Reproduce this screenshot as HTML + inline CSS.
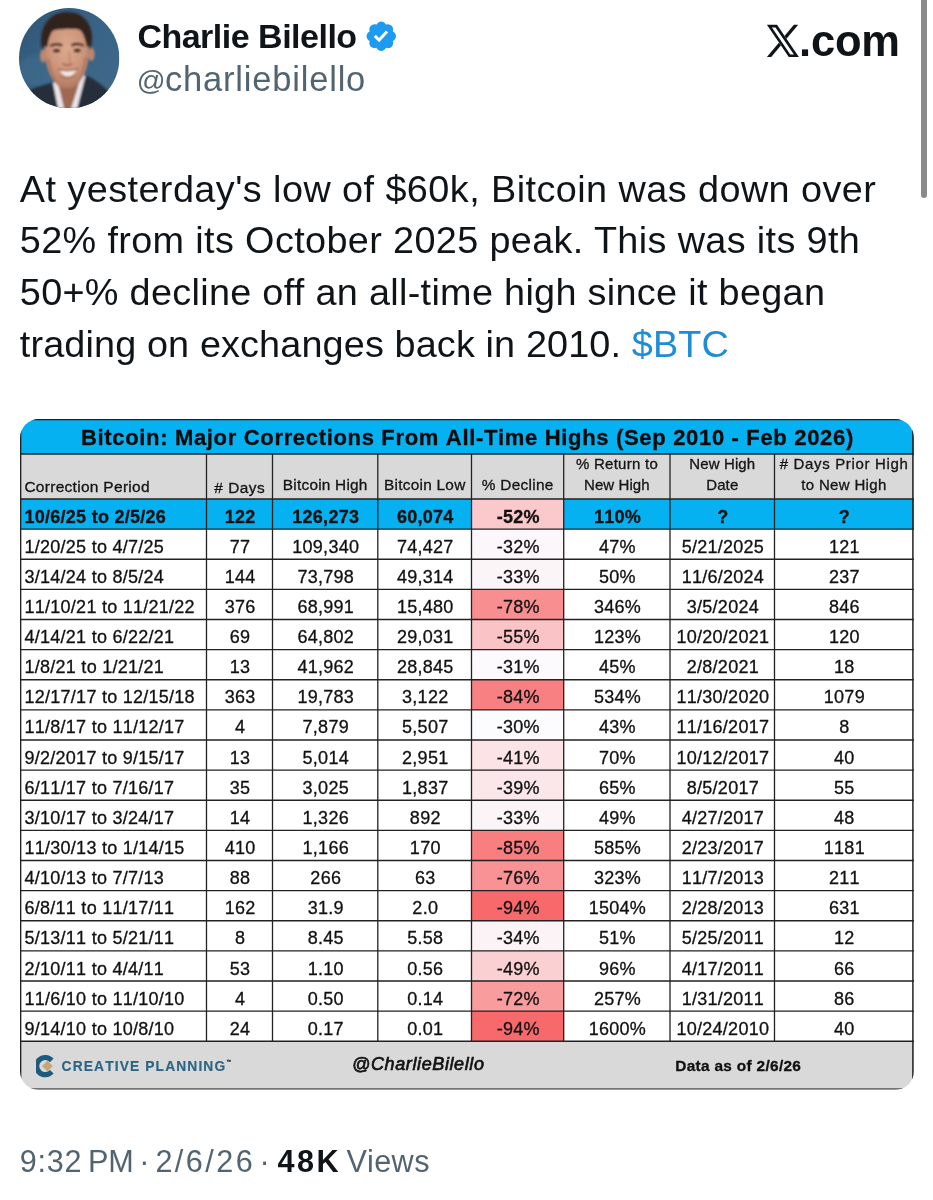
<!DOCTYPE html>
<html lang="en">
<head>
<meta charset="utf-8">
<title>Charlie Bilello on X</title>
<style>
html,body{margin:0;padding:0;background:#fff;}
body{width:933px;height:1200px;position:relative;overflow:hidden;font-family:"Liberation Sans",sans-serif;color:#0f1419;}
#tweet div{position:absolute;white-space:pre;}
#tweet svg{position:absolute;}
.card{left:20px;top:419px;width:894px;height:671px;border-radius:19px;overflow:hidden;background:#fff;}
.card div{font-kerning:none;color:#111;-webkit-text-stroke:0.3px #111;}
.bg{left:0;}
</style>
</head>
<body>
<article id="tweet">
<svg width="100.4" height="100.4" viewBox="0 0 100 100" style="left:19.2px;top:7.6px">
<defs>
<clipPath id="avc"><circle cx="50" cy="50" r="50"/></clipPath>
<filter id="b1" x="-20%" y="-20%" width="140%" height="140%"><feGaussianBlur stdDeviation="1.1"/></filter>
<filter id="b2" x="-20%" y="-20%" width="140%" height="140%"><feGaussianBlur stdDeviation="0.9"/></filter>
<filter id="b3" x="-30%" y="-30%" width="160%" height="160%"><feGaussianBlur stdDeviation="2.5"/></filter>
<linearGradient id="avbg" x1="0" y1="0" x2="1" y2="0.8"><stop offset="0" stop-color="#2f5676"/><stop offset="0.6" stop-color="#3a6487"/><stop offset="1" stop-color="#3f6889"/></linearGradient>
<radialGradient id="skin" cx="0.5" cy="0.35" r="0.7"><stop offset="0" stop-color="#dca98f"/><stop offset="0.55" stop-color="#cd967c"/><stop offset="1" stop-color="#ad745d"/></radialGradient>
</defs>
<g clip-path="url(#avc)">
<rect width="100" height="100" fill="url(#avbg)"/>
<ellipse cx="20" cy="62" rx="22" ry="16" fill="#42708f" opacity="0.55" filter="url(#b3)"/>
<g filter="url(#b1)" transform="translate(-1.1,-0.9)">
<!-- suit -->
<path d="M6 86 C12 81 24 78 35 75 L44 104 L58 104 L68 68 C76 72 84 77 92 86 L96 106 L2 106 Z" fill="#262e3b"/>
<!-- shirt collar -->
<path d="M35 76 L37.5 73 L43 82 L47 101 L40 101 Z" fill="#e9e4e6"/>
<path d="M67 69 L64 66 L58 80 L52 101 L59 101 Z" fill="#e9e4e6"/>
<!-- neck -->
<path d="M38 70 L64 64 L59 82 L53 101 L46 101 L42 84 Z" fill="#9f6852"/>
<!-- ears -->
<ellipse cx="25.2" cy="48.5" rx="3.2" ry="6.8" fill="#bd866e"/>
<ellipse cx="73.2" cy="47" rx="3.2" ry="6.8" fill="#bd866e"/>
<!-- hair -->
<path d="M24.5 44 C19 22 30 5.5 48 4.8 C67 4 78 20 72.5 43 C72 33 69 26 62 22 C54 19 44 19 36 22 C29 26 26 33 24.5 44 Z" fill="#33241f"/>
<!-- face -->
<path d="M27 42 C26 29 33 20.5 48 20 C63 19.5 71 28 70.5 41 C71 57 67 68 60 76 C55 82 44 83 39 77 C31 69 27 57 27 42 Z" fill="url(#skin)"/>
<!-- temples hair over face edges -->
<path d="M26 40 C26 30 30 24 36 21 C32 27 30 33 29.5 39 Z" fill="#33241f"/>
<path d="M71.5 40 C71.5 30 68 24 61 21 C65.5 26 67.5 33 68.5 39 Z" fill="#33241f"/>
<!-- hairline fringe -->
<path d="M34 24 C40 17 58 16 65 24 C58 20.5 54 22.5 49 21.5 C44 22.5 40 21 34 24 Z" fill="#33241f"/>
</g>
<g filter="url(#b2)" transform="translate(-1.1,-0.9)">
<!-- cheek / jaw shading -->
<path d="M29 52 C30 64 35 73 41 78 C36 70 33 62 32 52 Z" fill="#a66e58" opacity="0.6"/>
<path d="M69 50 C68 63 63 72 58 78 C62 70 65 62 66 50 Z" fill="#a66e58" opacity="0.6"/>
<!-- brows / eyes -->
<path d="M32.5 38.6 Q38 35.6 44 38.2" stroke="#3f2a22" stroke-width="2.1" fill="none"/>
<path d="M53.5 38 Q59.5 35.4 65.5 38.4" stroke="#3f2a22" stroke-width="2.1" fill="none"/>
<ellipse cx="38.5" cy="43.4" rx="3.4" ry="1.7" fill="#4d3128"/>
<ellipse cx="59.2" cy="43.2" rx="3.4" ry="1.7" fill="#4d3128"/>
<!-- nose -->
<path d="M44.5 56.5 Q49 59.5 54 56.5" stroke="#a2674f" stroke-width="1.7" fill="none"/>
<path d="M50.5 44 Q52 51 51.5 55" stroke="#b98068" stroke-width="1.2" fill="none"/>
<!-- smile -->
<path d="M41.5 62.6 Q50 65.2 58.5 62.2 Q55.5 68.8 50 69 Q44.5 69 41.5 62.6 Z" fill="#f1e9e6"/>
<path d="M40 62 Q50 64.8 60 61.6" stroke="#93584a" stroke-width="1.3" fill="none"/>
<path d="M42 68.5 Q49.5 73 57 68" stroke="#a56a58" stroke-width="1.4" fill="none"/>
</g>
</g>
</svg>
<div style="top:14px;font-size:34px;line-height:44px;font-weight:700;letter-spacing:-0.5px;left:137.40px;">Charlie Bilello</div><div style="top:57px;font-size:34.5px;line-height:44px;color:#536471;letter-spacing:0.8px;left:136.80px;"><span style="font-size:28.4px;position:relative;top:-1.4px;letter-spacing:-0.6px">@</span>charliebilello</div><svg width="34.5" height="34.5" viewBox="0 0 22 22" style="left:364.15px;top:19.25px"><path fill="#1d9bf0" d="M20.396 11c-.018-.646-.215-1.275-.57-1.816-.354-.54-.852-.972-1.438-1.246.223-.607.27-1.264.14-1.897-.131-.634-.437-1.218-.882-1.687-.47-.445-1.053-.75-1.687-.882-.633-.13-1.29-.083-1.897.14-.273-.587-.704-1.086-1.245-1.44S11.647 1.62 11 1.604c-.646.017-1.273.213-1.813.568s-.969.854-1.24 1.44c-.608-.223-1.267-.272-1.902-.14-.635.13-1.22.436-1.69.882-.445.47-.749 1.055-.878 1.688-.13.633-.08 1.29.144 1.896-.587.274-1.087.705-1.443 1.245-.356.54-.555 1.17-.574 1.817.02.647.218 1.276.574 1.817.356.54.856.972 1.443 1.245-.224.606-.274 1.263-.144 1.896.13.634.433 1.218.877 1.688.47.443 1.054.747 1.687.878.633.132 1.29.084 1.897-.136.274.586.705 1.084 1.246 1.439.54.354 1.17.551 1.816.569.647-.016 1.276-.213 1.817-.567s.972-.854 1.245-1.44c.604.239 1.266.296 1.903.164.636-.132 1.22-.447 1.68-.907.46-.46.776-1.044.908-1.681s.075-1.299-.165-1.903c.586-.274 1.084-.705 1.439-1.246.354-.54.551-1.17.569-1.816zM9.662 14.85l-3.429-3.428 1.293-1.302 2.072 2.072 4.4-4.794 1.347 1.246z"/></svg>
<svg width="40" height="40" viewBox="760 20 40 40" style="left:760px;top:20px">
<path d="M793.9 24.8 L798.2 24.8 L771.2 57.1 L766.9 57.1 Z" fill="#0f1419"/>
<path d="M766.9 24.8 L777.0 24.8 L798.9 57.1 L788.8 57.1 Z" fill="#fff"/>
<path fill-rule="evenodd" d="M766.9 24.8 L777.0 24.8 L798.9 57.1 L788.8 57.1 Z M771.9 27.4 L790.3 54.5 L793.9 54.5 L775.5 27.4 Z" fill="#0f1419"/>
</svg>
<div style="top:13px;font-size:43.5px;line-height:56px;font-weight:700;letter-spacing:-0.2px;left:799.00px;">.com</div><div style="left:921px;top:-6px;width:6px;height:204px;border-radius:3px;background:#8a8a8a"></div>
<div style="top:164px;font-size:37.8px;line-height:50px;letter-spacing:0.44px;left:19.80px;">At yesterday's low of $60k, Bitcoin was down over</div>
<div style="top:215px;font-size:37.8px;line-height:50px;letter-spacing:0.367px;left:19.80px;">52% from its October 2025 peak. This was its 9th</div>
<div style="top:267px;font-size:37.8px;line-height:50px;letter-spacing:0.313px;left:19.80px;">50+% decline off an all-time high since it began</div>
<div style="top:319px;font-size:37.8px;line-height:50px;letter-spacing:0.134px;left:19.80px;">trading on exchanges back in 2010. <span style="color:#1e8dd6">$BTC</span></div>
<div class="card">
<div class="bg" style="left:0.00px;top:0.00px;width:894.00px;height:35.00px;background:#05b1f0"></div><div class="bg" style="left:0.00px;top:35.00px;width:894.00px;height:44.75px;background:#d9d9d9"></div><div class="bg" style="left:0.00px;top:80.00px;width:894.00px;height:30.12px;background:#05b1f0"></div><div class="bg" style="left:0.00px;top:622.25px;width:894.00px;height:49.75px;background:#d9d9d9"></div>
<div class="bg" style="left:451.50px;top:80.00px;width:92.20px;height:30.12px;background:#fbc9cc"></div><div class="bg" style="left:451.50px;top:110.12px;width:92.20px;height:30.12px;background:#fcf7fa"></div><div class="bg" style="left:451.50px;top:140.25px;width:92.20px;height:30.12px;background:#fcf5f8"></div><div class="bg" style="left:451.50px;top:170.38px;width:92.20px;height:30.12px;background:#f98e90"></div><div class="bg" style="left:451.50px;top:200.50px;width:92.20px;height:30.12px;background:#fac3c5"></div><div class="bg" style="left:451.50px;top:230.62px;width:92.20px;height:30.12px;background:#fcfafd"></div><div class="bg" style="left:451.50px;top:260.75px;width:92.20px;height:30.12px;background:#f98082"></div><div class="bg" style="left:451.50px;top:290.88px;width:92.20px;height:30.12px;background:#fcfcff"></div><div class="bg" style="left:451.50px;top:321.00px;width:92.20px;height:30.12px;background:#fbe3e6"></div><div class="bg" style="left:451.50px;top:351.12px;width:92.20px;height:30.12px;background:#fbe7ea"></div><div class="bg" style="left:451.50px;top:381.25px;width:92.20px;height:30.12px;background:#fcf5f8"></div><div class="bg" style="left:451.50px;top:411.38px;width:92.20px;height:30.12px;background:#f97e80"></div><div class="bg" style="left:451.50px;top:441.50px;width:92.20px;height:30.12px;background:#f99295"></div><div class="bg" style="left:451.50px;top:471.62px;width:92.20px;height:30.12px;background:#f8696b"></div><div class="bg" style="left:451.50px;top:501.75px;width:92.20px;height:30.12px;background:#fcf3f6"></div><div class="bg" style="left:451.50px;top:531.88px;width:92.20px;height:30.12px;background:#fbd0d3"></div><div class="bg" style="left:451.50px;top:562.00px;width:92.20px;height:30.12px;background:#f99c9e"></div><div class="bg" style="left:451.50px;top:592.12px;width:92.20px;height:30.12px;background:#f8696b"></div>
<div style="top:4px;font-size:22px;line-height:29px;font-weight:700;color:#0a0a0a;letter-spacing:0.671px;left:60.90px;">Bitcoin: Major Corrections From All-Time Highs (Sep 2010 - Feb 2026)</div>
<div style="top:57px;font-size:15.5px;line-height:21px;color:#161616;letter-spacing:0.287px;left:4.40px;">Correction Period</div><div style="top:58px;font-size:15.4px;line-height:21px;color:#161616;letter-spacing:0.494px;left:139.75px;width:160px;text-align:center;"># Days</div><div style="top:55px;font-size:15.4px;line-height:21px;color:#161616;letter-spacing:0.221px;left:225.26px;width:160px;text-align:center;">Bitcoin High</div><div style="top:55px;font-size:15.4px;line-height:21px;color:#161616;letter-spacing:0.265px;left:324.78px;width:160px;text-align:center;">Bitcoin Low</div><div style="top:55px;font-size:15.4px;line-height:21px;color:#161616;letter-spacing:0.296px;left:417.75px;width:160px;text-align:center;">% Decline</div><div style="top:34px;font-size:15.0px;line-height:21px;color:#161616;letter-spacing:0.27px;left:516.99px;width:160px;text-align:center;">% Return to</div><div style="top:55px;font-size:15.0px;line-height:21px;color:#161616;letter-spacing:0.082px;left:516.89px;width:160px;text-align:center;">New High</div><div style="top:34px;font-size:15.0px;line-height:21px;color:#161616;letter-spacing:0.111px;left:622.31px;width:160px;text-align:center;">New High</div><div style="top:55px;font-size:15.0px;line-height:21px;color:#161616;letter-spacing:0.105px;left:622.30px;width:160px;text-align:center;">Date</div><div style="top:34px;font-size:15.0px;line-height:21px;color:#161616;letter-spacing:0.666px;left:744.08px;width:160px;text-align:center;"># Days Prior High</div><div style="top:55px;font-size:15.0px;line-height:21px;color:#161616;letter-spacing:0.33px;left:743.91px;width:160px;text-align:center;">to New High</div>
<div style="top:86px;font-size:18.0px;line-height:24px;font-weight:700;color:#111;letter-spacing:0.26px;left:4.50px;">10/6/25 to 2/5/26</div><div style="top:86px;font-size:18.0px;line-height:24px;font-weight:700;color:#111;letter-spacing:0.26px;left:155.13px;width:130px;text-align:center;">122</div><div style="top:86px;font-size:18.0px;line-height:24px;font-weight:700;color:#111;letter-spacing:0.26px;left:240.78px;width:130px;text-align:center;">126,273</div><div style="top:86px;font-size:18.0px;line-height:24px;font-weight:700;color:#111;letter-spacing:0.26px;left:340.28px;width:130px;text-align:center;">60,074</div><div style="top:86px;font-size:18.0px;line-height:24px;font-weight:700;color:#111;letter-spacing:0.26px;left:433.23px;width:130px;text-align:center;">-52%</div><div style="top:86px;font-size:18.0px;line-height:24px;font-weight:700;color:#111;letter-spacing:0.26px;left:532.48px;width:130px;text-align:center;">110%</div><div style="top:86px;font-size:18.0px;line-height:24px;font-weight:700;color:#111;letter-spacing:0.26px;left:637.88px;width:130px;text-align:center;">?</div><div style="top:86px;font-size:18.0px;line-height:24px;font-weight:700;color:#111;letter-spacing:0.26px;left:759.38px;width:130px;text-align:center;">?</div>
<div style="top:116px;font-size:18.0px;line-height:24px;color:#111;letter-spacing:0.26px;left:4.50px;">1/20/25 to 4/7/25</div><div style="top:116px;font-size:18.0px;line-height:24px;color:#111;letter-spacing:0.26px;left:155.13px;width:130px;text-align:center;">77</div><div style="top:116px;font-size:18.0px;line-height:24px;color:#111;letter-spacing:0.26px;left:240.78px;width:130px;text-align:center;">109,340</div><div style="top:116px;font-size:18.0px;line-height:24px;color:#111;letter-spacing:0.26px;left:340.28px;width:130px;text-align:center;">74,427</div><div style="top:116px;font-size:18.0px;line-height:24px;color:#111;letter-spacing:0.26px;left:433.23px;width:130px;text-align:center;">-32%</div><div style="top:116px;font-size:18.0px;line-height:24px;color:#111;letter-spacing:0.26px;left:532.48px;width:130px;text-align:center;">47%</div><div style="top:116px;font-size:18.0px;line-height:24px;color:#111;letter-spacing:0.26px;left:637.88px;width:130px;text-align:center;">5/21/2025</div><div style="top:116px;font-size:18.0px;line-height:24px;color:#111;letter-spacing:0.26px;left:759.38px;width:130px;text-align:center;">121</div>
<div style="top:146px;font-size:18.0px;line-height:24px;color:#111;letter-spacing:0.26px;left:4.50px;">3/14/24 to 8/5/24</div><div style="top:146px;font-size:18.0px;line-height:24px;color:#111;letter-spacing:0.26px;left:155.13px;width:130px;text-align:center;">144</div><div style="top:146px;font-size:18.0px;line-height:24px;color:#111;letter-spacing:0.26px;left:240.78px;width:130px;text-align:center;">73,798</div><div style="top:146px;font-size:18.0px;line-height:24px;color:#111;letter-spacing:0.26px;left:340.28px;width:130px;text-align:center;">49,314</div><div style="top:146px;font-size:18.0px;line-height:24px;color:#111;letter-spacing:0.26px;left:433.23px;width:130px;text-align:center;">-33%</div><div style="top:146px;font-size:18.0px;line-height:24px;color:#111;letter-spacing:0.26px;left:532.48px;width:130px;text-align:center;">50%</div><div style="top:146px;font-size:18.0px;line-height:24px;color:#111;letter-spacing:0.26px;left:637.88px;width:130px;text-align:center;">11/6/2024</div><div style="top:146px;font-size:18.0px;line-height:24px;color:#111;letter-spacing:0.26px;left:759.38px;width:130px;text-align:center;">237</div>
<div style="top:176px;font-size:18.0px;line-height:24px;color:#111;letter-spacing:0.26px;left:4.50px;">11/10/21 to 11/21/22</div><div style="top:176px;font-size:18.0px;line-height:24px;color:#111;letter-spacing:0.26px;left:155.13px;width:130px;text-align:center;">376</div><div style="top:176px;font-size:18.0px;line-height:24px;color:#111;letter-spacing:0.26px;left:240.78px;width:130px;text-align:center;">68,991</div><div style="top:176px;font-size:18.0px;line-height:24px;color:#111;letter-spacing:0.26px;left:340.28px;width:130px;text-align:center;">15,480</div><div style="top:176px;font-size:18.0px;line-height:24px;color:#111;letter-spacing:0.26px;left:433.23px;width:130px;text-align:center;">-78%</div><div style="top:176px;font-size:18.0px;line-height:24px;color:#111;letter-spacing:0.26px;left:532.48px;width:130px;text-align:center;">346%</div><div style="top:176px;font-size:18.0px;line-height:24px;color:#111;letter-spacing:0.26px;left:637.88px;width:130px;text-align:center;">3/5/2024</div><div style="top:176px;font-size:18.0px;line-height:24px;color:#111;letter-spacing:0.26px;left:759.38px;width:130px;text-align:center;">846</div>
<div style="top:206px;font-size:18.0px;line-height:24px;color:#111;letter-spacing:0.26px;left:4.50px;">4/14/21 to 6/22/21</div><div style="top:206px;font-size:18.0px;line-height:24px;color:#111;letter-spacing:0.26px;left:155.13px;width:130px;text-align:center;">69</div><div style="top:206px;font-size:18.0px;line-height:24px;color:#111;letter-spacing:0.26px;left:240.78px;width:130px;text-align:center;">64,802</div><div style="top:206px;font-size:18.0px;line-height:24px;color:#111;letter-spacing:0.26px;left:340.28px;width:130px;text-align:center;">29,031</div><div style="top:206px;font-size:18.0px;line-height:24px;color:#111;letter-spacing:0.26px;left:433.23px;width:130px;text-align:center;">-55%</div><div style="top:206px;font-size:18.0px;line-height:24px;color:#111;letter-spacing:0.26px;left:532.48px;width:130px;text-align:center;">123%</div><div style="top:206px;font-size:18.0px;line-height:24px;color:#111;letter-spacing:0.26px;left:637.88px;width:130px;text-align:center;">10/20/2021</div><div style="top:206px;font-size:18.0px;line-height:24px;color:#111;letter-spacing:0.26px;left:759.38px;width:130px;text-align:center;">120</div>
<div style="top:236px;font-size:18.0px;line-height:24px;color:#111;letter-spacing:0.26px;left:4.50px;">1/8/21 to 1/21/21</div><div style="top:236px;font-size:18.0px;line-height:24px;color:#111;letter-spacing:0.26px;left:155.13px;width:130px;text-align:center;">13</div><div style="top:236px;font-size:18.0px;line-height:24px;color:#111;letter-spacing:0.26px;left:240.78px;width:130px;text-align:center;">41,962</div><div style="top:236px;font-size:18.0px;line-height:24px;color:#111;letter-spacing:0.26px;left:340.28px;width:130px;text-align:center;">28,845</div><div style="top:236px;font-size:18.0px;line-height:24px;color:#111;letter-spacing:0.26px;left:433.23px;width:130px;text-align:center;">-31%</div><div style="top:236px;font-size:18.0px;line-height:24px;color:#111;letter-spacing:0.26px;left:532.48px;width:130px;text-align:center;">45%</div><div style="top:236px;font-size:18.0px;line-height:24px;color:#111;letter-spacing:0.26px;left:637.88px;width:130px;text-align:center;">2/8/2021</div><div style="top:236px;font-size:18.0px;line-height:24px;color:#111;letter-spacing:0.26px;left:759.38px;width:130px;text-align:center;">18</div>
<div style="top:266px;font-size:18.0px;line-height:24px;color:#111;letter-spacing:0.26px;left:4.50px;">12/17/17 to 12/15/18</div><div style="top:266px;font-size:18.0px;line-height:24px;color:#111;letter-spacing:0.26px;left:155.13px;width:130px;text-align:center;">363</div><div style="top:266px;font-size:18.0px;line-height:24px;color:#111;letter-spacing:0.26px;left:240.78px;width:130px;text-align:center;">19,783</div><div style="top:266px;font-size:18.0px;line-height:24px;color:#111;letter-spacing:0.26px;left:340.28px;width:130px;text-align:center;">3,122</div><div style="top:266px;font-size:18.0px;line-height:24px;color:#111;letter-spacing:0.26px;left:433.23px;width:130px;text-align:center;">-84%</div><div style="top:266px;font-size:18.0px;line-height:24px;color:#111;letter-spacing:0.26px;left:532.48px;width:130px;text-align:center;">534%</div><div style="top:266px;font-size:18.0px;line-height:24px;color:#111;letter-spacing:0.26px;left:637.88px;width:130px;text-align:center;">11/30/2020</div><div style="top:266px;font-size:18.0px;line-height:24px;color:#111;letter-spacing:0.26px;left:759.38px;width:130px;text-align:center;">1079</div>
<div style="top:296px;font-size:18.0px;line-height:24px;color:#111;letter-spacing:0.26px;left:4.50px;">11/8/17 to 11/12/17</div><div style="top:296px;font-size:18.0px;line-height:24px;color:#111;letter-spacing:0.26px;left:155.13px;width:130px;text-align:center;">4</div><div style="top:296px;font-size:18.0px;line-height:24px;color:#111;letter-spacing:0.26px;left:240.78px;width:130px;text-align:center;">7,879</div><div style="top:296px;font-size:18.0px;line-height:24px;color:#111;letter-spacing:0.26px;left:340.28px;width:130px;text-align:center;">5,507</div><div style="top:296px;font-size:18.0px;line-height:24px;color:#111;letter-spacing:0.26px;left:433.23px;width:130px;text-align:center;">-30%</div><div style="top:296px;font-size:18.0px;line-height:24px;color:#111;letter-spacing:0.26px;left:532.48px;width:130px;text-align:center;">43%</div><div style="top:296px;font-size:18.0px;line-height:24px;color:#111;letter-spacing:0.26px;left:637.88px;width:130px;text-align:center;">11/16/2017</div><div style="top:296px;font-size:18.0px;line-height:24px;color:#111;letter-spacing:0.26px;left:759.38px;width:130px;text-align:center;">8</div>
<div style="top:327px;font-size:18.0px;line-height:24px;color:#111;letter-spacing:0.26px;left:4.50px;">9/2/2017 to 9/15/17</div><div style="top:327px;font-size:18.0px;line-height:24px;color:#111;letter-spacing:0.26px;left:155.13px;width:130px;text-align:center;">13</div><div style="top:327px;font-size:18.0px;line-height:24px;color:#111;letter-spacing:0.26px;left:240.78px;width:130px;text-align:center;">5,014</div><div style="top:327px;font-size:18.0px;line-height:24px;color:#111;letter-spacing:0.26px;left:340.28px;width:130px;text-align:center;">2,951</div><div style="top:327px;font-size:18.0px;line-height:24px;color:#111;letter-spacing:0.26px;left:433.23px;width:130px;text-align:center;">-41%</div><div style="top:327px;font-size:18.0px;line-height:24px;color:#111;letter-spacing:0.26px;left:532.48px;width:130px;text-align:center;">70%</div><div style="top:327px;font-size:18.0px;line-height:24px;color:#111;letter-spacing:0.26px;left:637.88px;width:130px;text-align:center;">10/12/2017</div><div style="top:327px;font-size:18.0px;line-height:24px;color:#111;letter-spacing:0.26px;left:759.38px;width:130px;text-align:center;">40</div>
<div style="top:357px;font-size:18.0px;line-height:24px;color:#111;letter-spacing:0.26px;left:4.50px;">6/11/17 to 7/16/17</div><div style="top:357px;font-size:18.0px;line-height:24px;color:#111;letter-spacing:0.26px;left:155.13px;width:130px;text-align:center;">35</div><div style="top:357px;font-size:18.0px;line-height:24px;color:#111;letter-spacing:0.26px;left:240.78px;width:130px;text-align:center;">3,025</div><div style="top:357px;font-size:18.0px;line-height:24px;color:#111;letter-spacing:0.26px;left:340.28px;width:130px;text-align:center;">1,837</div><div style="top:357px;font-size:18.0px;line-height:24px;color:#111;letter-spacing:0.26px;left:433.23px;width:130px;text-align:center;">-39%</div><div style="top:357px;font-size:18.0px;line-height:24px;color:#111;letter-spacing:0.26px;left:532.48px;width:130px;text-align:center;">65%</div><div style="top:357px;font-size:18.0px;line-height:24px;color:#111;letter-spacing:0.26px;left:637.88px;width:130px;text-align:center;">8/5/2017</div><div style="top:357px;font-size:18.0px;line-height:24px;color:#111;letter-spacing:0.26px;left:759.38px;width:130px;text-align:center;">55</div>
<div style="top:387px;font-size:18.0px;line-height:24px;color:#111;letter-spacing:0.26px;left:4.50px;">3/10/17 to 3/24/17</div><div style="top:387px;font-size:18.0px;line-height:24px;color:#111;letter-spacing:0.26px;left:155.13px;width:130px;text-align:center;">14</div><div style="top:387px;font-size:18.0px;line-height:24px;color:#111;letter-spacing:0.26px;left:240.78px;width:130px;text-align:center;">1,326</div><div style="top:387px;font-size:18.0px;line-height:24px;color:#111;letter-spacing:0.26px;left:340.28px;width:130px;text-align:center;">892</div><div style="top:387px;font-size:18.0px;line-height:24px;color:#111;letter-spacing:0.26px;left:433.23px;width:130px;text-align:center;">-33%</div><div style="top:387px;font-size:18.0px;line-height:24px;color:#111;letter-spacing:0.26px;left:532.48px;width:130px;text-align:center;">49%</div><div style="top:387px;font-size:18.0px;line-height:24px;color:#111;letter-spacing:0.26px;left:637.88px;width:130px;text-align:center;">4/27/2017</div><div style="top:387px;font-size:18.0px;line-height:24px;color:#111;letter-spacing:0.26px;left:759.38px;width:130px;text-align:center;">48</div>
<div style="top:417px;font-size:18.0px;line-height:24px;color:#111;letter-spacing:0.26px;left:4.50px;">11/30/13 to 1/14/15</div><div style="top:417px;font-size:18.0px;line-height:24px;color:#111;letter-spacing:0.26px;left:155.13px;width:130px;text-align:center;">410</div><div style="top:417px;font-size:18.0px;line-height:24px;color:#111;letter-spacing:0.26px;left:240.78px;width:130px;text-align:center;">1,166</div><div style="top:417px;font-size:18.0px;line-height:24px;color:#111;letter-spacing:0.26px;left:340.28px;width:130px;text-align:center;">170</div><div style="top:417px;font-size:18.0px;line-height:24px;color:#111;letter-spacing:0.26px;left:433.23px;width:130px;text-align:center;">-85%</div><div style="top:417px;font-size:18.0px;line-height:24px;color:#111;letter-spacing:0.26px;left:532.48px;width:130px;text-align:center;">585%</div><div style="top:417px;font-size:18.0px;line-height:24px;color:#111;letter-spacing:0.26px;left:637.88px;width:130px;text-align:center;">2/23/2017</div><div style="top:417px;font-size:18.0px;line-height:24px;color:#111;letter-spacing:0.26px;left:759.38px;width:130px;text-align:center;">1181</div>
<div style="top:447px;font-size:18.0px;line-height:24px;color:#111;letter-spacing:0.26px;left:4.50px;">4/10/13 to 7/7/13</div><div style="top:447px;font-size:18.0px;line-height:24px;color:#111;letter-spacing:0.26px;left:155.13px;width:130px;text-align:center;">88</div><div style="top:447px;font-size:18.0px;line-height:24px;color:#111;letter-spacing:0.26px;left:240.78px;width:130px;text-align:center;">266</div><div style="top:447px;font-size:18.0px;line-height:24px;color:#111;letter-spacing:0.26px;left:340.28px;width:130px;text-align:center;">63</div><div style="top:447px;font-size:18.0px;line-height:24px;color:#111;letter-spacing:0.26px;left:433.23px;width:130px;text-align:center;">-76%</div><div style="top:447px;font-size:18.0px;line-height:24px;color:#111;letter-spacing:0.26px;left:532.48px;width:130px;text-align:center;">323%</div><div style="top:447px;font-size:18.0px;line-height:24px;color:#111;letter-spacing:0.26px;left:637.88px;width:130px;text-align:center;">11/7/2013</div><div style="top:447px;font-size:18.0px;line-height:24px;color:#111;letter-spacing:0.26px;left:759.38px;width:130px;text-align:center;">211</div>
<div style="top:477px;font-size:18.0px;line-height:24px;color:#111;letter-spacing:0.26px;left:4.50px;">6/8/11 to 11/17/11</div><div style="top:477px;font-size:18.0px;line-height:24px;color:#111;letter-spacing:0.26px;left:155.13px;width:130px;text-align:center;">162</div><div style="top:477px;font-size:18.0px;line-height:24px;color:#111;letter-spacing:0.26px;left:240.78px;width:130px;text-align:center;">31.9</div><div style="top:477px;font-size:18.0px;line-height:24px;color:#111;letter-spacing:0.26px;left:340.28px;width:130px;text-align:center;">2.0</div><div style="top:477px;font-size:18.0px;line-height:24px;color:#111;letter-spacing:0.26px;left:433.23px;width:130px;text-align:center;">-94%</div><div style="top:477px;font-size:18.0px;line-height:24px;color:#111;letter-spacing:0.26px;left:532.48px;width:130px;text-align:center;">1504%</div><div style="top:477px;font-size:18.0px;line-height:24px;color:#111;letter-spacing:0.26px;left:637.88px;width:130px;text-align:center;">2/28/2013</div><div style="top:477px;font-size:18.0px;line-height:24px;color:#111;letter-spacing:0.26px;left:759.38px;width:130px;text-align:center;">631</div>
<div style="top:507px;font-size:18.0px;line-height:24px;color:#111;letter-spacing:0.26px;left:4.50px;">5/13/11 to 5/21/11</div><div style="top:507px;font-size:18.0px;line-height:24px;color:#111;letter-spacing:0.26px;left:155.13px;width:130px;text-align:center;">8</div><div style="top:507px;font-size:18.0px;line-height:24px;color:#111;letter-spacing:0.26px;left:240.78px;width:130px;text-align:center;">8.45</div><div style="top:507px;font-size:18.0px;line-height:24px;color:#111;letter-spacing:0.26px;left:340.28px;width:130px;text-align:center;">5.58</div><div style="top:507px;font-size:18.0px;line-height:24px;color:#111;letter-spacing:0.26px;left:433.23px;width:130px;text-align:center;">-34%</div><div style="top:507px;font-size:18.0px;line-height:24px;color:#111;letter-spacing:0.26px;left:532.48px;width:130px;text-align:center;">51%</div><div style="top:507px;font-size:18.0px;line-height:24px;color:#111;letter-spacing:0.26px;left:637.88px;width:130px;text-align:center;">5/25/2011</div><div style="top:507px;font-size:18.0px;line-height:24px;color:#111;letter-spacing:0.26px;left:759.38px;width:130px;text-align:center;">12</div>
<div style="top:538px;font-size:18.0px;line-height:24px;color:#111;letter-spacing:0.26px;left:4.50px;">2/10/11 to 4/4/11</div><div style="top:538px;font-size:18.0px;line-height:24px;color:#111;letter-spacing:0.26px;left:155.13px;width:130px;text-align:center;">53</div><div style="top:538px;font-size:18.0px;line-height:24px;color:#111;letter-spacing:0.26px;left:240.78px;width:130px;text-align:center;">1.10</div><div style="top:538px;font-size:18.0px;line-height:24px;color:#111;letter-spacing:0.26px;left:340.28px;width:130px;text-align:center;">0.56</div><div style="top:538px;font-size:18.0px;line-height:24px;color:#111;letter-spacing:0.26px;left:433.23px;width:130px;text-align:center;">-49%</div><div style="top:538px;font-size:18.0px;line-height:24px;color:#111;letter-spacing:0.26px;left:532.48px;width:130px;text-align:center;">96%</div><div style="top:538px;font-size:18.0px;line-height:24px;color:#111;letter-spacing:0.26px;left:637.88px;width:130px;text-align:center;">4/17/2011</div><div style="top:538px;font-size:18.0px;line-height:24px;color:#111;letter-spacing:0.26px;left:759.38px;width:130px;text-align:center;">66</div>
<div style="top:568px;font-size:18.0px;line-height:24px;color:#111;letter-spacing:0.26px;left:4.50px;">11/6/10 to 11/10/10</div><div style="top:568px;font-size:18.0px;line-height:24px;color:#111;letter-spacing:0.26px;left:155.13px;width:130px;text-align:center;">4</div><div style="top:568px;font-size:18.0px;line-height:24px;color:#111;letter-spacing:0.26px;left:240.78px;width:130px;text-align:center;">0.50</div><div style="top:568px;font-size:18.0px;line-height:24px;color:#111;letter-spacing:0.26px;left:340.28px;width:130px;text-align:center;">0.14</div><div style="top:568px;font-size:18.0px;line-height:24px;color:#111;letter-spacing:0.26px;left:433.23px;width:130px;text-align:center;">-72%</div><div style="top:568px;font-size:18.0px;line-height:24px;color:#111;letter-spacing:0.26px;left:532.48px;width:130px;text-align:center;">257%</div><div style="top:568px;font-size:18.0px;line-height:24px;color:#111;letter-spacing:0.26px;left:637.88px;width:130px;text-align:center;">1/31/2011</div><div style="top:568px;font-size:18.0px;line-height:24px;color:#111;letter-spacing:0.26px;left:759.38px;width:130px;text-align:center;">86</div>
<div style="top:598px;font-size:18.0px;line-height:24px;color:#111;letter-spacing:0.26px;left:4.50px;">9/14/10 to 10/8/10</div><div style="top:598px;font-size:18.0px;line-height:24px;color:#111;letter-spacing:0.26px;left:155.13px;width:130px;text-align:center;">24</div><div style="top:598px;font-size:18.0px;line-height:24px;color:#111;letter-spacing:0.26px;left:240.78px;width:130px;text-align:center;">0.17</div><div style="top:598px;font-size:18.0px;line-height:24px;color:#111;letter-spacing:0.26px;left:340.28px;width:130px;text-align:center;">0.01</div><div style="top:598px;font-size:18.0px;line-height:24px;color:#111;letter-spacing:0.26px;left:433.23px;width:130px;text-align:center;">-94%</div><div style="top:598px;font-size:18.0px;line-height:24px;color:#111;letter-spacing:0.26px;left:532.48px;width:130px;text-align:center;">1600%</div><div style="top:598px;font-size:18.0px;line-height:24px;color:#111;letter-spacing:0.26px;left:637.88px;width:130px;text-align:center;">10/24/2010</div><div style="top:598px;font-size:18.0px;line-height:24px;color:#111;letter-spacing:0.26px;left:759.38px;width:130px;text-align:center;">40</div>
<svg width="894" height="671" viewBox="20 419 894 671" style="left:0;top:0" fill="none" stroke="#222" stroke-width="1.3"><path d="M20 454.00H914 M20 499.00H914 M20 529.12H914 M20 559.25H914 M20 589.38H914 M20 619.50H914 M20 649.62H914 M20 679.75H914 M20 709.88H914 M20 740.00H914 M20 770.12H914 M20 800.25H914 M20 830.38H914 M20 860.50H914 M20 890.62H914 M20 920.75H914 M20 950.88H914 M20 981.00H914 M20 1011.12H914 M20 1041.25H914 M206.50 454.00V1041.25 M272.50 454.00V1041.25 M377.80 454.00V1041.25 M471.50 454.00V1041.25 M563.70 454.00V1041.25 M670.00 454.00V1041.25 M774.50 454.00V1041.25"/><path stroke-width="1.5" d="M20.6 419V1091 M912.9 419V1091 M20 419.5H914"/><path stroke="#555" stroke-width="1.2" d="M20 1088.9H914"/></svg>
<svg width="22" height="26" viewBox="0 0 22 26" style="left:15.7px;top:633.7px">
<path d="M17.6 5.6 L13.9 9.3 A6 6 0 1 0 13.9 16.9 L17.6 20.6 A11.2 11.2 0 1 1 17.6 5.6 Z" fill="#1e5a7a"/>
<path d="M11.4 7.7 L16.8 13.1 L11.4 18.5 L6.0 13.1 Z" fill="#c9a574"/>
</svg><div style="top:638px;font-size:13.8px;line-height:19px;font-weight:700;color:#2a6585;letter-spacing:1.12px;left:41.60px;-webkit-text-stroke:0.15px #2a6585;">CREATIVE PLANNING</div><div style="top:633px;font-size:18px;line-height:24px;color:#111;letter-spacing:0.62px;left:332.00px;font-style:italic;-webkit-text-stroke:0.65px #111;">@CharlieBilello</div><div style="top:638px;font-size:4.5px;line-height:9px;color:#4f7f9a;left:206.60px;">™</div><div style="top:636px;font-size:15.4px;line-height:21px;font-weight:700;color:#111;letter-spacing:0.313px;left:655.30px;">Data as of 2/6/26</div>
</div>
<div style="top:1141px;font-size:30.6px;line-height:40px;color:#536471;letter-spacing:-0.1px;left:19.70px;word-spacing:-2.6px;"><span style="letter-spacing:0.75px">9:32</span> PM</div><div style="top:1141px;font-size:30.6px;line-height:40px;color:#536471;left:139.20px;">·</div><div style="top:1141px;font-size:30.6px;line-height:40px;color:#536471;letter-spacing:2.45px;left:155.40px;">2/6/26</div><div style="top:1141px;font-size:30.6px;line-height:40px;color:#536471;left:259.60px;">·</div><div style="top:1141px;font-size:30.6px;line-height:40px;font-weight:700;letter-spacing:2.5px;left:277.40px;">48K</div><div style="top:1141px;font-size:30.6px;line-height:40px;color:#536471;letter-spacing:0.45px;left:346.60px;">Views</div>
</article>
</body>
</html>
